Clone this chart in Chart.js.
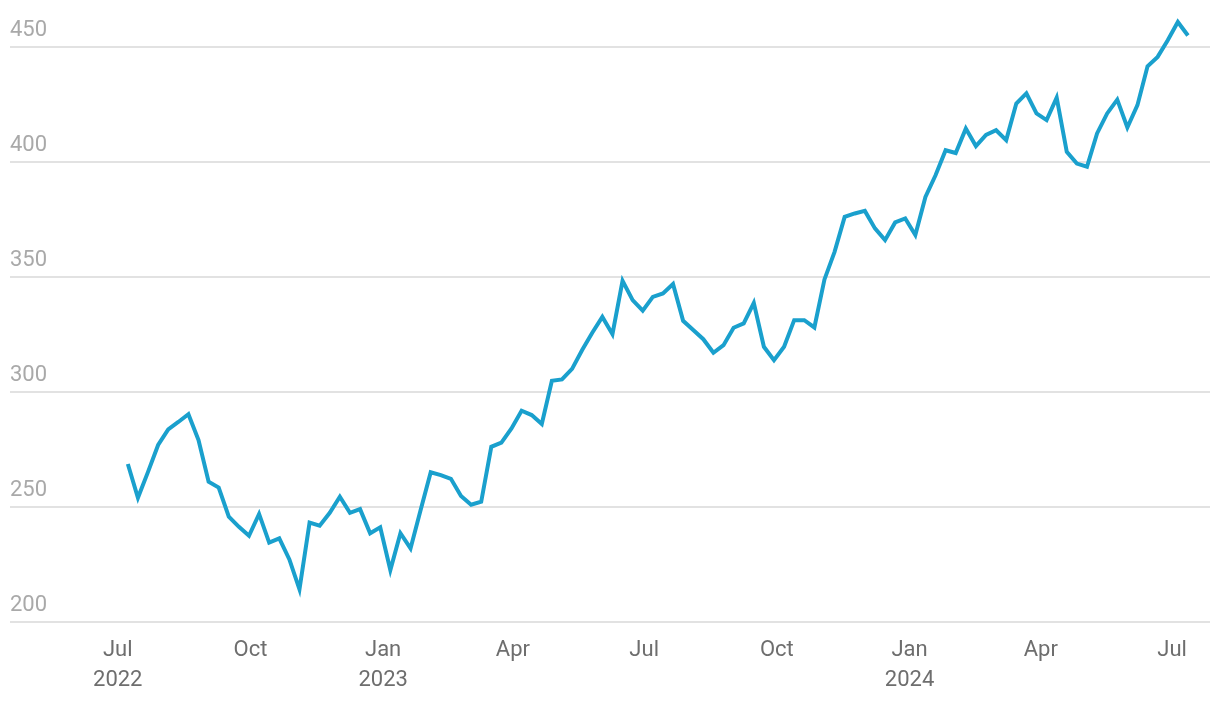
<!DOCTYPE html>
<html>
<head>
<meta charset="utf-8">
<script src="https://cdn.jsdelivr.net/npm/chart.js@4"></script>
<style>
  html, body { margin: 0; padding: 0; background: #fff; }
  #wrap { width: 1220px; height: 702px; position: relative; }
</style>
</head>
<body>
<div id="wrap"><canvas id="chart"></canvas></div>
<script>
// weekly closes, first week ending 2022-07-08
const firstWeek = "2022-07-08";
const values = [
  268.7, 254.0, 265.3, 277.0, 283.8, 287.0, 290.4, 279.1, 261.0, 258.5,
  245.8, 241.4, 237.5, 247.0, 234.5, 236.4, 227.2, 214.2, 243.2, 241.9,
  247.5, 254.5, 247.5, 249.1, 238.6, 241.2, 222.6, 238.6,
  232.0, 248.7, 265.1, 263.9, 262.3, 254.8, 251.0, 252.3, 276.2, 278.0,
  284.2, 291.9, 290.0, 286.1, 304.9, 305.5, 310.1, 318.3, 325.8, 332.7,
  325.2, 348.4, 340.0, 335.4,
  341.4, 342.9, 347.0, 331.0, 327.0, 323.0, 317.1, 320.4, 328.0, 329.9,
  338.8, 319.7, 313.9, 319.7, 331.3, 331.3, 328.1, 349.0, 361.0, 376.2,
  377.7, 378.8, 371.2, 366.1, 373.8, 375.5, 368.3,
  384.9, 394.3, 405.2, 404.0, 414.6, 407.0, 411.9, 413.9, 409.6, 425.5,
  429.9, 421.2, 418.3, 428.1, 404.5, 399.4, 398.0, 412.5, 421.2, 427.2,
  415.1, 424.8, 441.7, 445.8, 453.0, 461.0, 455.1
];

const xTickDates = ["2022-07-01", "2022-10-01", "2023-01-01", "2023-04-01", "2023-07-01",
                    "2023-10-01", "2024-01-01", "2024-04-01", "2024-07-01"];
const xTickLabels = [["Jul", "2022"], "Oct", ["Jan", "2023"], "Apr", "Jul",
                     "Oct", ["Jan", "2024"], "Apr", "Jul"];
const yTicks = [200, 250, 300, 350, 400, 450];

const DAY = 86400000;
function toDay(s) {
  return Date.parse(s + "T00:00:00Z") / DAY;
}

const start = toDay(firstWeek);
const points = values.map((v, i) => ({ x: start + i * 7, y: v }));
const tickDays = xTickDates.map(toDay);

const xMin = start - 81.7;
const xMax = start + (values.length - 1) * 7 + 15.3;

new Chart(document.getElementById("chart"), {
  type: "line",
  data: {
    datasets: [{
      data: points,
      borderColor: "#1aa0cd",
      borderWidth: 4,
      pointRadius: 0,
      tension: 0,
      fill: false
    }]
  },
  options: {
    responsive: true,
    maintainAspectRatio: false,
    animation: false,
    layout: { padding: { left: 0, right: 10, top: 0, bottom: 0 } },
    plugins: {
      legend: { display: false },
      tooltip: { enabled: false }
    },
    scales: {
      x: {
        type: "linear",
        min: xMin,
        max: xMax,
        grid: { display: false, drawTicks: false },
        border: { display: false },
        afterBuildTicks: scale => {
          scale.ticks = tickDays.map(d => ({ value: d }));
        },
        afterFit: scale => { scale.height = 80; },
        ticks: {
          autoSkip: false,
          maxRotation: 0,
          padding: 14,
          color: "#6e6e6e",
          font: { family: "Roboto", size: 22, lineHeight: 1.36 },
          callback: (value, index) => xTickLabels[index]
        }
      },
      y: {
        min: 200,
        max: 464.8,
        grid: { color: "#e2e2e2", lineWidth: 2, drawTicks: false },
        border: { display: false },
        afterBuildTicks: scale => {
          scale.ticks = yTicks.map(v => ({ value: v }));
        },
        afterFit: scale => { scale.width = 10; },
        ticks: {
          mirror: true,
          padding: 0,
          labelOffset: -17,
          color: "#a9a9a9",
          font: { family: "Roboto", size: 22 }
        }
      }
    }
  }
});
</script>
</body>
</html>
